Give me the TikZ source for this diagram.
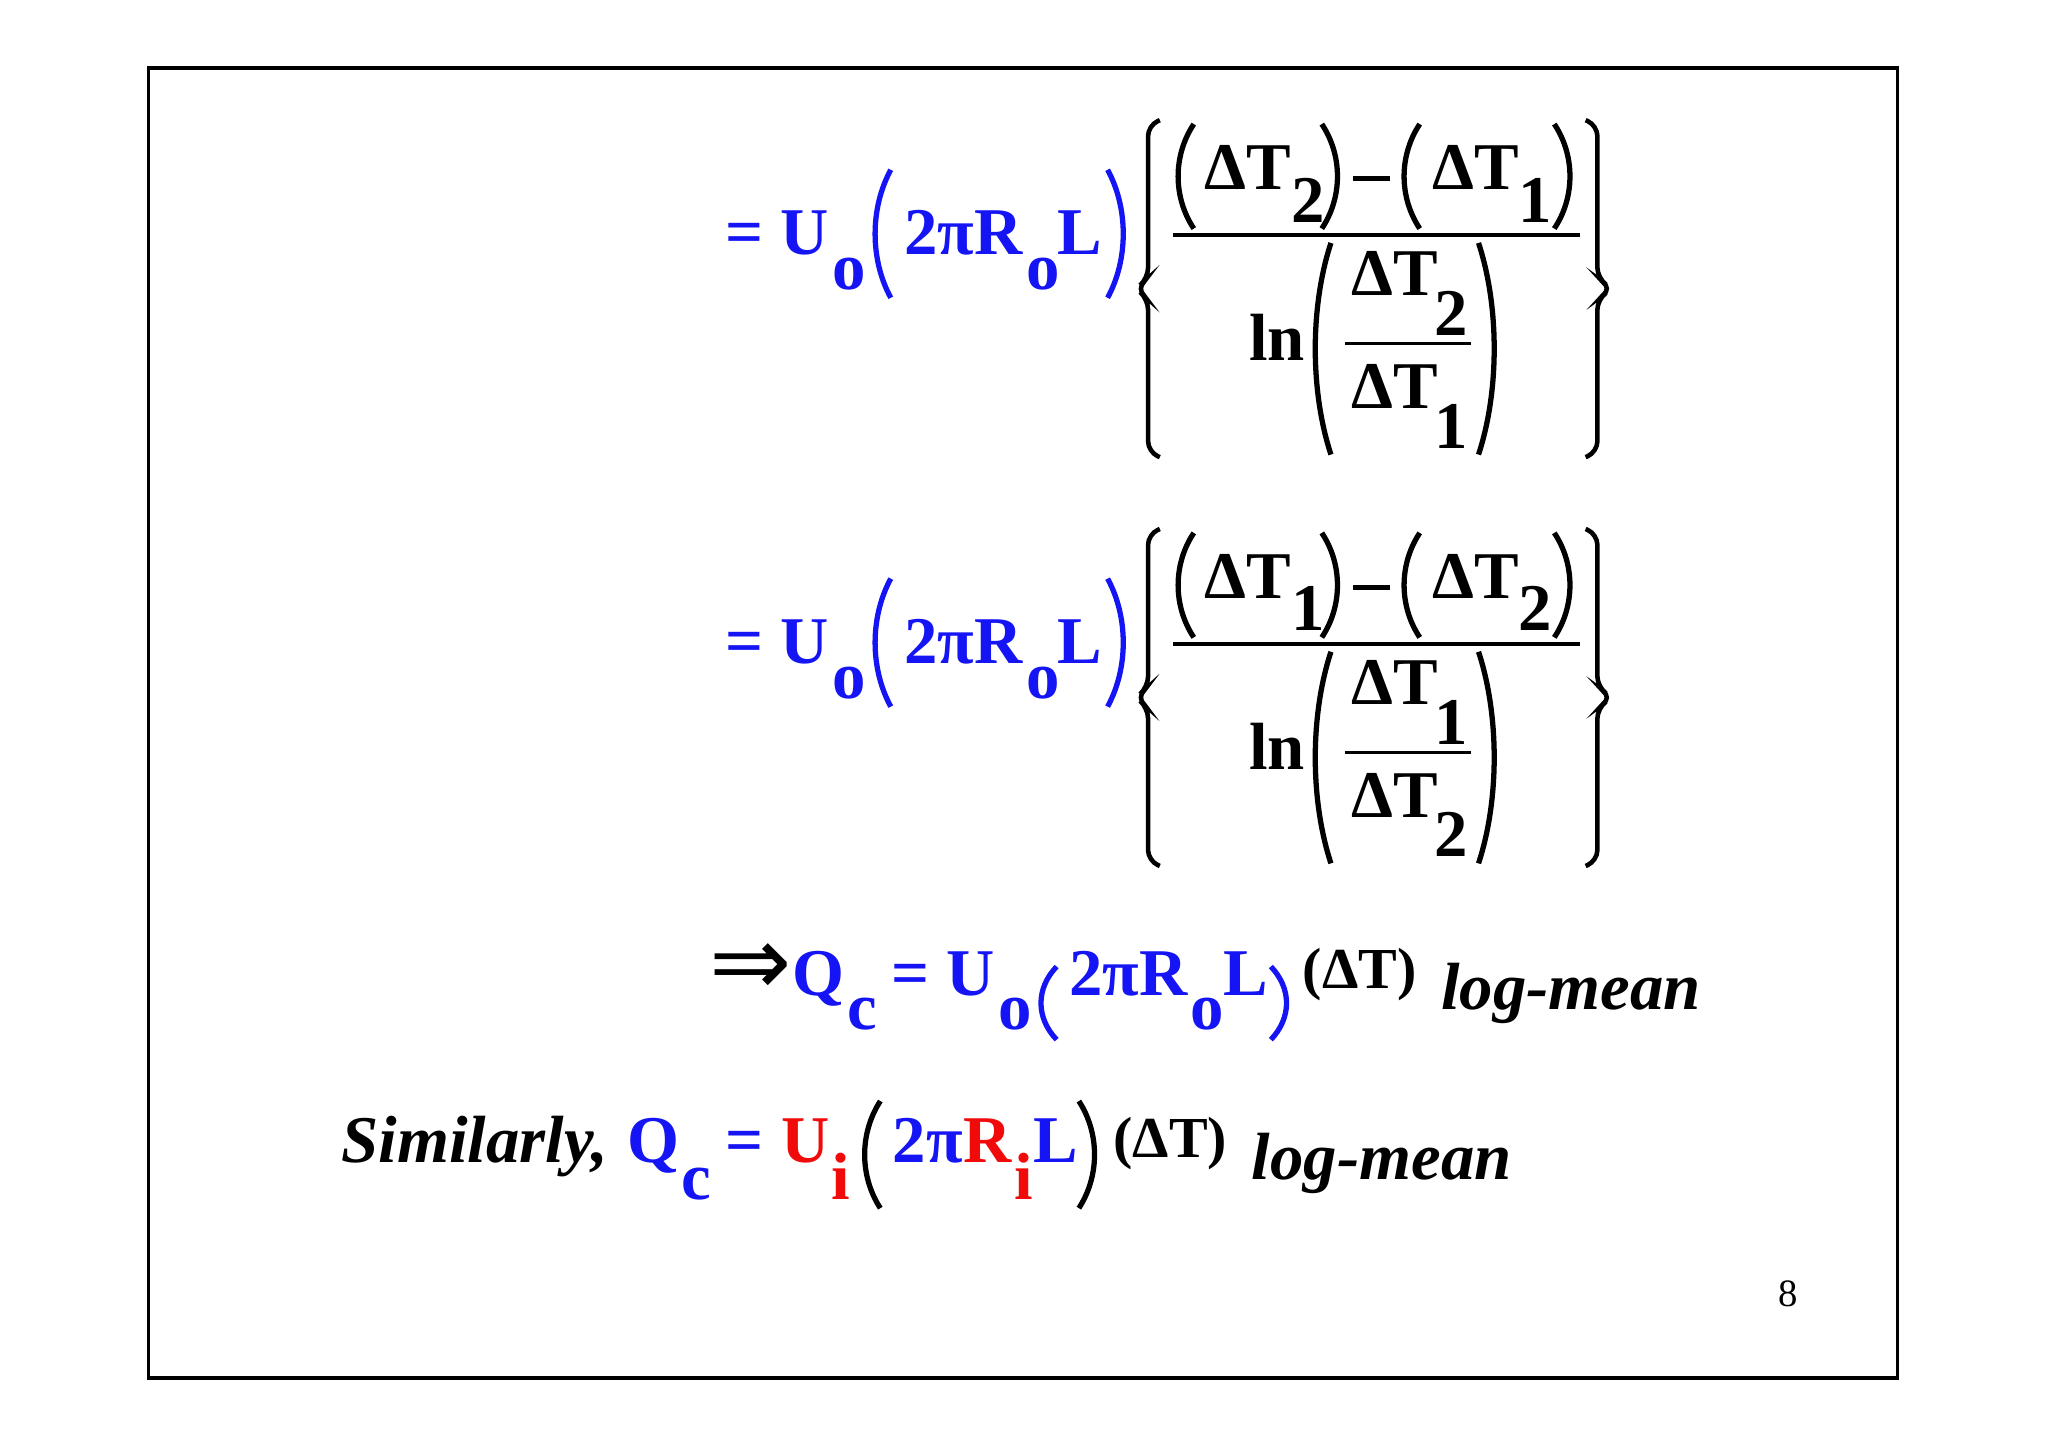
\documentclass[tikz,border=0pt]{standalone}
\usepackage{fontspec}
\setmainfont{Liberation Serif}
\newfontfamily\djv{DejaVu Sans}
\definecolor{eqblue}{RGB}{20,20,245}
\definecolor{eqred}{RGB}{240,10,10}
\tikzset{
 t/.style={anchor=base west,inner sep=0pt,font=\fontsize{19}{22}\selectfont\bfseries},
 ts/.style={anchor=base west,inner sep=0pt,font=\fontsize{16.5}{20}\selectfont\bfseries},
 ti/.style={anchor=base west,inner sep=0pt,font=\fontsize{19}{22}\selectfont\bfseries\itshape},
 pr/.style={line width=1.5pt},
 br/.style={line width=1.3pt,rounded corners=3},
}
\newcommand{\lpar}[3]{\draw[pr] (#1+14,#2) .. controls (#1-2,#2+0.3*#3-0.3*#2) and (#1-2,#3-0.3*#3+0.3*#2) .. (#1+14,#3);}
\newcommand{\rpar}[3]{\draw[pr] (#1,#2) .. controls (#1+16,#2+0.3*#3-0.3*#2) and (#1+16,#3-0.3*#3+0.3*#2) .. (#1,#3);}
\newcommand{\bigeq}[3]{%
 \begin{scope}[yshift=#1*(-0.01306cm)]
 \begin{scope}[eqblue]
 \node[t] (e#1a) at (555,195) {= U};
 \node[t] at (637,222) {o};
 \lpar{668}{130}{228}
 \node[t] at (692,195) {2πR};
 \node[t] at (785,222) {o};
 \node[t] at (809,195) {L};
 \rpar{848}{130}{228}
 \end{scope}
 \draw[br] (888,92) -- (879,96) -- (879,213) -- (870,221) -- (879,229) -- (879,346) -- (888,350);
 \draw[br] (1214,92) -- (1223,96) -- (1223,213) -- (1234,221) -- (1223,229) -- (1223,346) -- (1214,350);
 \lpar{900}{95}{175}
 \node[t] at (922,145) {ΔT};
 \node[t] at (988,170) {#2};
 \rpar{1012}{95}{175}
 \draw[line width=1.4pt] (1036,137) -- (1064,137);
 \lpar{1073}{95}{175}
 \node[t] at (1096,145) {ΔT};
 \node[t] at (1162,170) {#3};
 \rpar{1190}{95}{175}
 \draw[line width=1.2pt] (898,180) -- (1210,180);
 \node[t] at (956,276) {ln};
 \lpar{1005}{186}{348}
 \node[t] at (1034,226) {ΔT};
 \node[t] at (1098,257) {#2};
 \draw[line width=1pt] (1030,263) -- (1126,263);
 \node[t] at (1034,313) {ΔT};
 \node[t] at (1098,343) {#3};
 \rpar{1132}{186}{348}
 \end{scope}}
\begin{document}
\begin{tikzpicture}[x=0.01306cm,y=-0.01306cm]
\useasboundingbox (0,0) rectangle (1568,1108.6);
\fill[white] (0,0) rectangle (1568,1108.6);
\draw[line width=0.9pt] (114,52) rectangle (1453,1055);
\bigeq{0}{2}{1}
\bigeq{313}{1}{2}
\node[anchor=base west,inner sep=0pt,font=\fontsize{28}{30}\selectfont\djv] (imp) at (543,762) {⇒};
\begin{scope}[eqblue]
\node[t] (q3) at (606,762) {Q};
\node[t] at (648,788) {c};
\node[t] at (682,762) {= U};
\node[t] at (764,788) {o};
\lpar{795}{740}{796}
\node[t] at (818,762) {2πR};
\node[t] at (911,788) {o};
\node[t] at (936,762) {L};
\rpar{973}{740}{796}
\end{scope}
\node[ts] at (997,757) {(ΔT)};
\node[ti] at (1103,773) {log-mean};
\node[ti] (sim) at (261,890) {Similarly,};
\begin{scope}[eqblue]
\node[t] at (480,890) {Q};
\node[t] at (521,918) {c};
\node[t] at (555,890) {=};
\end{scope}
\node[t,eqred] at (598,890) {U};
\node[t,eqred] at (636,918) {i};
\lpar{660}{843}{925}
\node[t,eqblue] at (683,890) {2π};
\node[t,eqred] at (737,890) {R};
\node[t,eqred] at (776,918) {i};
\node[t,eqblue] at (791,890) {L};
\rpar{826}{843}{925}
\node[ts] at (852,886) {(ΔT)};
\node[ti] at (958,903) {log-mean};
\node[anchor=base west,inner sep=0pt,font=\fontsize{11}{12}\selectfont] (pg) at (1361,1000) {8};
\end{tikzpicture}
\end{document}
